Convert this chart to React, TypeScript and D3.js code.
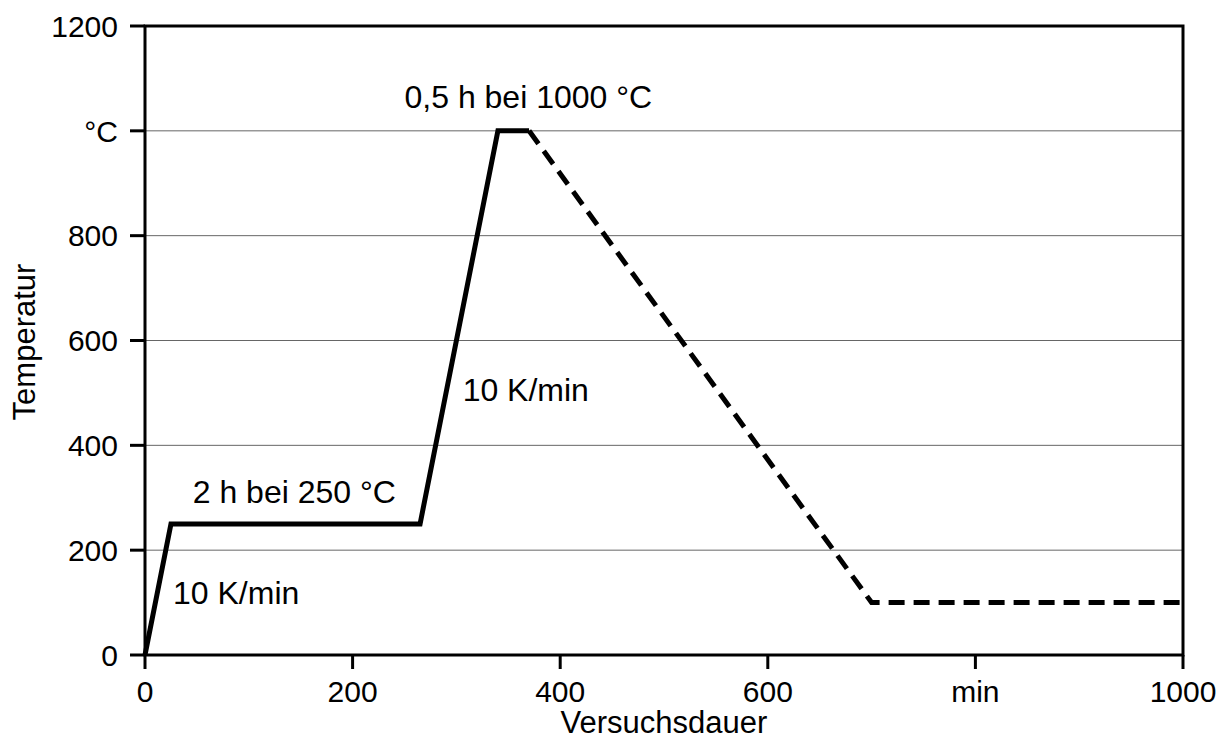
import React, { useEffect, useRef } from "react";
import * as d3 from "d3";

// heating program (solid) and cooling (dashed), time in min, temp in °C
const heatTime = [0, 25, 265, 340, 370];
const heatTemp = [0, 250, 250, 1000, 1000];
const coolTime = [370, 700, 1000];
const coolTemp = [1000, 100, 100];

const xTicks = [0, 200, 400, 600, 800, 1000];
const xTickLabels = ["0", "200", "400", "600", "min", "1000"];
const yTicks = [0, 200, 400, 600, 800, 1000, 1200];
const yTickLabels = ["0", "200", "400", "600", "800", "°C", "1200"];

const notes = [
  { t: 27, v: 97, text: "10 K/min" },
  { t: 46, v: 290, text: "2 h bei 250 °C" },
  { t: 306, v: 485, text: "10 K/min" },
  { t: 250, v: 1043, text: "0,5 h bei 1000 °C" },
];

const W = 1228;
const H = 741;

export default function App() {
  const ref = useRef<SVGSVGElement>(null);

  useEffect(() => {
    if (!ref.current) return;
    const svg = d3.select(ref.current);
    svg.selectAll("*").remove();

    const left = 145;
    const right = 1183;
    const top = 26;
    const bottom = 655;
    const font = "Arial, 'Liberation Sans', sans-serif";
    const fs = 30;

    const x = d3.scaleLinear().domain([0, 1000]).range([left, right]);
    const y = d3.scaleLinear().domain([0, 1200]).range([bottom, top]);

    // grid lines
    svg
      .append("g")
      .selectAll("line")
      .data(yTicks.filter((d) => d > 0 && d < 1200))
      .join("line")
      .attr("x1", left)
      .attr("x2", right)
      .attr("y1", (d) => y(d))
      .attr("y2", (d) => y(d))
      .attr("stroke", "#666")
      .attr("stroke-width", 1);

    // frame
    svg
      .append("rect")
      .attr("x", left)
      .attr("y", top)
      .attr("width", right - left)
      .attr("height", bottom - top)
      .attr("fill", "none")
      .attr("stroke", "#000")
      .attr("stroke-width", 3);

    // y ticks
    const yAxis = svg.append("g");
    yTicks.forEach((d, i) => {
      yAxis
        .append("line")
        .attr("x1", left - 15)
        .attr("x2", left)
        .attr("y1", y(d))
        .attr("y2", y(d))
        .attr("stroke", "#000")
        .attr("stroke-width", 3);
      yAxis
        .append("text")
        .attr("x", left - 27)
        .attr("y", y(d))
        .attr("dy", "0.36em")
        .attr("text-anchor", "end")
        .attr("font-family", font)
        .attr("font-size", fs)
        .text(yTickLabels[i]);
    });

    // x ticks
    const xAxis = svg.append("g");
    xTicks.forEach((d, i) => {
      xAxis
        .append("line")
        .attr("x1", x(d))
        .attr("x2", x(d))
        .attr("y1", bottom)
        .attr("y2", bottom + 14)
        .attr("stroke", "#000")
        .attr("stroke-width", 3);
      xAxis
        .append("text")
        .attr("x", x(d))
        .attr("y", 702)
        .attr("text-anchor", "middle")
        .attr("font-family", font)
        .attr("font-size", fs)
        .text(xTickLabels[i]);
    });

    // axis titles
    svg
      .append("text")
      .attr("x", (left + right) / 2)
      .attr("y", 733)
      .attr("text-anchor", "middle")
      .attr("font-family", font)
      .attr("font-size", fs + 1)
      .text("Versuchsdauer");

    svg
      .append("text")
      .attr("transform", `translate(35, 342) rotate(-90)`)
      .attr("text-anchor", "middle")
      .attr("font-family", font)
      .attr("font-size", fs + 1)
      .text("Temperatur");

    const path = d3
      .line<[number, number]>()
      .x((d) => x(d[0]))
      .y((d) => y(d[1]));

    svg
      .append("path")
      .attr("d", path(heatTime.map((t, i) => [t, heatTemp[i]]) as [number, number][]))
      .attr("fill", "none")
      .attr("stroke", "#000")
      .attr("stroke-width", 5)
      .attr("stroke-linejoin", "miter");

    svg
      .append("path")
      .attr("d", path(coolTime.map((t, i) => [t, coolTemp[i]]) as [number, number][]))
      .attr("fill", "none")
      .attr("stroke", "#000")
      .attr("stroke-width", 5)
      .attr("stroke-dasharray", "16,9");

    // annotations
    svg
      .append("g")
      .selectAll("text")
      .data(notes)
      .join("text")
      .attr("x", (d) => x(d.t))
      .attr("y", (d) => y(d.v))
      .attr("font-family", font)
      .attr("font-size", fs + 2)
      .text((d) => d.text);
  }, []);

  return (
    <svg
      ref={ref}
      width={W}
      height={H}
      style={{ display: "block", marginTop: -8, marginLeft: -8 }}
    />
  );
}
